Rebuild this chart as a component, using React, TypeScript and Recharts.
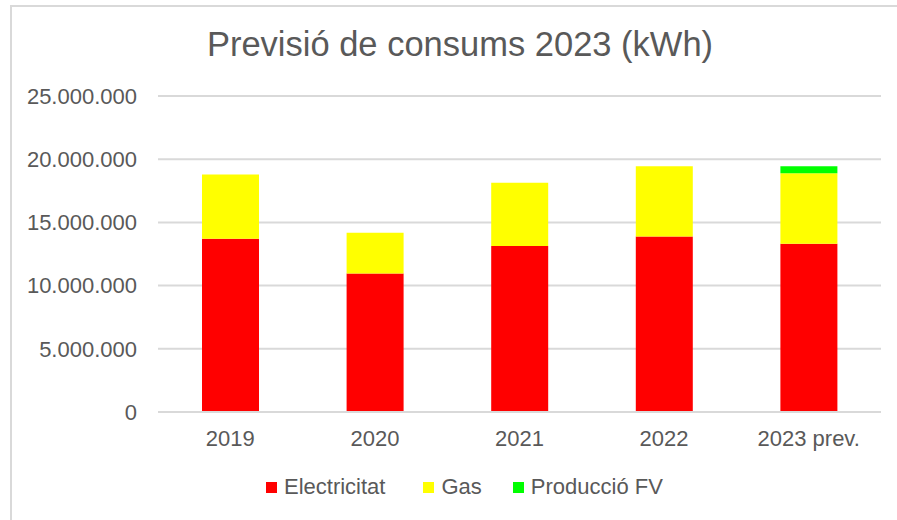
import { Bar, BarChart, CartesianGrid, Legend, XAxis, YAxis } from "recharts";

const FONT = "'Liberation Sans', Arial, sans-serif";
const TXT = "#595959";
const GRID = "#d9d9d9";

const YEARS = ["2019", "2020", "2021", "2022", "2023 prev."];
const ELECTRICITAT = [13700000, 10960000, 13130000, 13890000, 13310000];
const GAS = [5080000, 3220000, 5000000, 5560000, 5580000];
const PRODUCCIO_FV = [0, 0, 0, 0, 560000];
const Y_TICKS = [0, 5000000, 10000000, 15000000, 20000000, 25000000];

const SERIES = [
  { key: "elec", name: "Electricitat", color: "#ff0000" },
  { key: "gas", name: "Gas", color: "#ffff00" },
  { key: "fv", name: "Producció FV", color: "#00ff00" },
];

const data = YEARS.map((y, i) => ({
  year: y, elec: ELECTRICITAT[i], gas: GAS[i], fv: PRODUCCIO_FV[i],
}));

// 25000000 -> "25.000.000"
const dots = (v: number) => String(v).replace(/\B(?=(\d{3})+(?!\d))/g, ".");

function LegendBox() {
  const gaps = [38, 31, 0]; // Excel spacing between entries isn't uniform
  return (
    <div style={{ display: "flex", alignItems: "center", paddingLeft: 266, height: 26,
      fontSize: 22, lineHeight: "26px", color: TXT, fontFamily: FONT }}>
      {SERIES.map((s, i) => (
        <div key={s.key} style={{ display: "flex", alignItems: "center", marginRight: gaps[i] }}>
          <span style={{ width: 11, height: 11, background: s.color, marginRight: 7, display: "inline-block" }} />
          <span>{s.name}</span>
        </div>
      ))}
    </div>
  );
}

export default function App() {
  return (
    <div style={{ position: "absolute", left: 0, top: 0, width: 897, height: 520,
      overflow: "hidden", background: "#fff", fontFamily: FONT }}>
      {/* chart frame, cut off on the right and bottom in the screenshot */}
      <div style={{ position: "absolute", left: 10, top: 5, width: 950, height: 600,
        borderTop: `2px solid ${GRID}`, borderLeft: `2px solid ${GRID}` }} />
      <div style={{ position: "absolute", left: 0, top: 27, width: 920, textAlign: "center",
        fontSize: 34.5, lineHeight: "34.5px", color: TXT }}>
        Previsió de consums 2023 (kWh)
      </div>
      <BarChart width={897} height={520} data={data} barSize={57}
        margin={{ top: 96, right: 16, bottom: 68, left: 0 }}>
        <CartesianGrid vertical={false} stroke={GRID} strokeWidth={2} />
        <XAxis dataKey="year" height={40} tickLine={false} tickSize={0} tickMargin={18}
          axisLine={{ stroke: GRID, strokeWidth: 2 }}
          tick={{ fill: TXT, fontSize: 22, fontFamily: FONT }} />
        <YAxis width={158} domain={[0, 25000000]} ticks={Y_TICKS} tickFormatter={dots}
          axisLine={false} tickLine={false} tickSize={0} tickMargin={21}
          tick={{ fill: TXT, fontSize: 22, fontFamily: FONT }} />
        <Legend layout="horizontal" verticalAlign="middle" align="center"
          wrapperStyle={{ left: 0, top: 474, width: 897 }} content={() => <LegendBox />} />
        {SERIES.map(s => (
          <Bar key={s.key} dataKey={s.key} name={s.name} stackId="a" fill={s.color}
            isAnimationActive={false} />
        ))}
      </BarChart>
    </div>
  );
}
